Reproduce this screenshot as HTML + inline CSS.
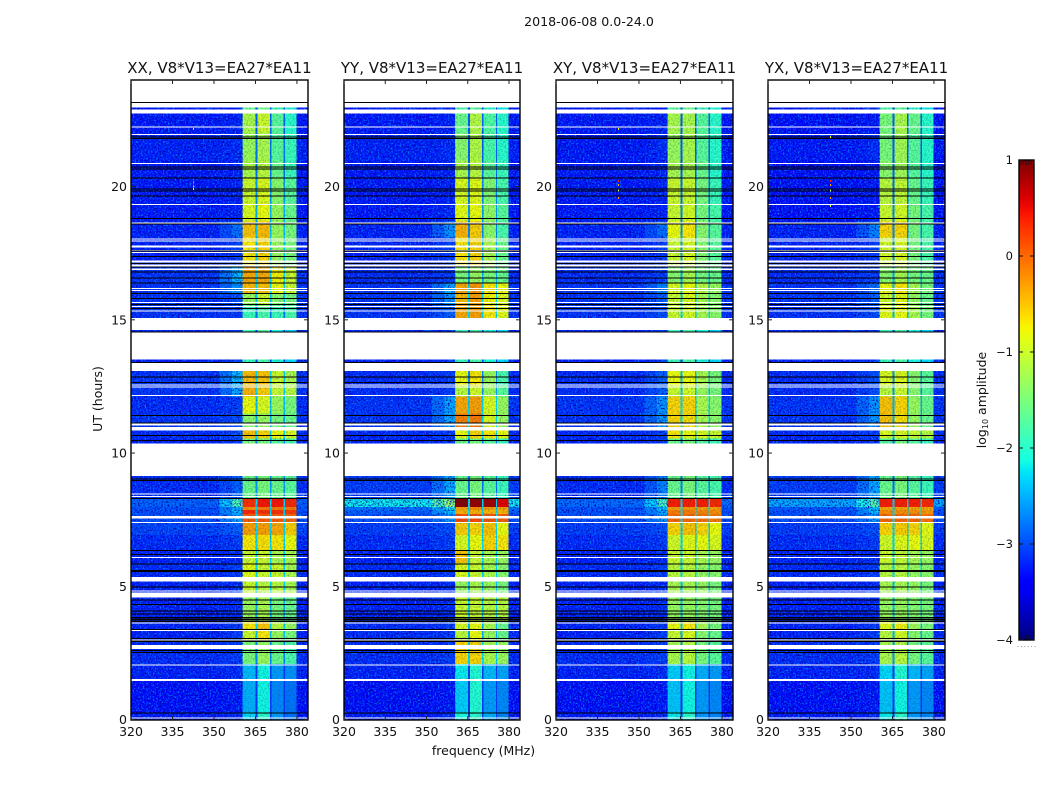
<!DOCTYPE html>
<html lang="en">
<head>
<meta charset="utf-8">
<title>2018-06-08 amplitude waterfall</title>
<style>
html,body{margin:0;padding:0;background:#fff;}
body{width:1050px;height:800px;overflow:hidden;}
svg{display:block;}
text{font-family:"DejaVu Sans","Liberation Sans",sans-serif;fill:#111;}
</style>
</head>
<body>
<svg id="figure" xmlns="http://www.w3.org/2000/svg" width="1050" height="800" viewBox="0 0 1050 800">
  <defs>
    <filter id="speckle" x="0" y="0" width="100%" height="100%" color-interpolation-filters="sRGB">
      <feTurbulence type="fractalNoise" baseFrequency="0.6" numOctaves="2" seed="4" result="n"/>
      <feColorMatrix in="n" type="matrix" values="0 0 0 0 0  0 0 0 0 0.5  0 0 0 0 1  3.5 0 0 0 -1.75" result="light"/>
      <feColorMatrix in="n" type="matrix" values="0 0 0 0 0  0 0 0 0 0  0 0 0 0 0.6  0 3.5 0 0 -1.7" result="dark"/>
      <feMerge><feMergeNode in="dark"/><feMergeNode in="light"/></feMerge>
    </filter>
    <filter id="speckle-soft" x="0" y="0" width="100%" height="100%" color-interpolation-filters="sRGB">
      <feTurbulence type="fractalNoise" baseFrequency="0.6" numOctaves="2" seed="9"/>
      <feColorMatrix type="matrix" values="0 0 0 0 0  0 0 0 0 0.2  0 0 0 0 0.3  0.9 0 0 0 -0.38"/>
    </filter>
    <linearGradient id="jet-gradient" x1="0" y1="1" x2="0" y2="0"></linearGradient>
  </defs>
  <text x="589" y="26" font-size="12.6" text-anchor="middle">2018-06-08 0.0-24.0</text>
  <text x="0" y="0" font-size="12.5" text-anchor="middle" transform="translate(102,399) rotate(-90)">UT (hours)</text>
  <text x="483.5" y="755" font-size="12.5" text-anchor="middle">frequency (MHz)</text>
  <text x="0" y="0" font-size="12.5" text-anchor="middle" transform="translate(986,400) rotate(-90)">log<tspan font-size="8" dy="2">10</tspan><tspan dy="-2"> amplitude</tspan></text>
  <g id="panels"></g>
  <g id="colorbar"></g>
</svg>
<script>
// ---- shared axes data ----
const panelTitles = ['XX, V8*V13=EA27*EA11','YY, V8*V13=EA27*EA11','XY, V8*V13=EA27*EA11','YX, V8*V13=EA27*EA11'];
const freqTicks = [320,335,350,365,380];
const utTicks = [0,5,10,15,20];
const colorbarTicks = [1,0,-1,-2,-3,-4];
const colorbarLabels = ['1','0','\u22121','\u22122','\u22123','\u22124'];

// Frequency columns (MHz) and which row value each column reads:
// 0 background, 1 shoulder, 2-5 bands, 6 gap between bands
const freqEdges = [320,352,356.5,360.4,365.1,365.8,370.2,370.8,375.2,375.7,379.9,384];
const freqColumnKind = [0,1,1,2,6,3,6,4,6,5,0];

// Time rows (hours, top to bottom)
const utEdges = [22.97,22.74,21.99,20.98,20.30,19.37,18.69,18.09,17.00,16.37,15.99,15.54,15.05,13.07,12.51,12.13,11.49,10.97,10.55,9.13,8.31,7.97,7.86,7.71,7.37,6.92,6.36,5.87,5.34,4.59,3.66,3.36,2.98,2.08,1.44,0.28,0];

// log10 amplitude per row: background, shoulder, band1..band4
const valuesXX = [
[-3.3,-3.3,-1.6,-1.6,-1.9,-2.1],[-3.3,-3.25,-1.2,-1.0,-1.7,-2.0],[-3.25,-3.2,-1.3,-1.2,-1.7,-1.9],[-3.3,-3.25,-1.2,-1.1,-1.6,-1.9],
[-3.3,-3.25,-1.0,-0.9,-1.4,-1.7],[-3.3,-3.25,-0.9,-0.8,-1.3,-1.6],[-3.25,-2.8,-0.5,-0.45,-1.3,-1.5],[-3.25,-3.1,-0.7,-0.6,-1.3,-1.5],
[-3.15,-2.4,-0.35,-0.35,-0.75,-1.0],[-3.15,-2.6,-0.45,-0.5,-0.8,-1.0],[-3.15,-3.0,-1.3,-1.0,-1.4,-1.5],[-3.15,-3.1,-1.9,-1.8,-1.9,-1.8],
[-3.25,-3.1,-1.9,-1.8,-2.1,-2.3],[-3.15,-2.4,-0.45,-0.5,-1.0,-1.2],[-3.15,-2.5,-0.4,-0.55,-1.0,-1.1],[-3.2,-3.1,-0.8,-0.9,-1.3,-1.5],
[-3.15,-3.0,-1.4,-1.3,-1.5,-1.6],[-3.2,-3.0,-0.5,-0.6,-0.8,-0.9],[-3.25,-3.1,-1.5,-1.5,-1.7,-1.8],[-3.2,-2.9,-1.6,-1.5,-1.6,-1.7],
[-2.9,-1.8,0.3,0.45,0.45,0.35],[-3.0,-2.5,-0.2,-0.1,-0.1,-0.1],[-3.0,-2.4,0.35,0.3,0.3,0.25],[-3.0,-2.5,0.05,0.05,0.05,0],
[-3.05,-2.9,-0.3,-0.3,-0.35,-0.55],[-3.2,-3.1,-0.7,-0.65,-0.7,-0.8],[-3.25,-3.2,-1.0,-1.0,-1.2,-1.2],[-3.2,-3.1,-0.85,-1.0,-1.0,-1.2],
[-3.25,-3.2,-1.0,-1.1,-1.1,-1.2],[-3.25,-3.2,-1.3,-1.2,-1.5,-1.6],[-3.25,-3.1,-0.7,-0.5,-1.1,-1.3],[-3.25,-3.1,-1.0,-0.7,-1.3,-1.5],
[-3.2,-3.1,-1.5,-1.3,-1.6,-1.8],[-3.25,-3.2,-2.45,-2.15,-2.6,-2.65],[-3.35,-3.3,-2.5,-2.15,-2.7,-2.8],[-3.3,-3.2,-2.3,-2.0,-2.6,-2.8]];
const valuesYY = [
[-3.3,-3.3,-1.8,-1.7,-2.0,-2.2],[-3.3,-3.25,-1.6,-1.15,-1.75,-2.0],[-3.25,-3.2,-1.4,-1.15,-1.8,-2.0],[-3.3,-3.25,-1.2,-1.1,-1.7,-1.9],
[-3.3,-3.25,-0.9,-0.85,-1.45,-1.8],[-3.3,-3.2,-0.85,-0.8,-1.35,-1.7],[-3.25,-2.6,-0.4,-0.55,-1.4,-1.8],[-3.25,-3.1,-0.7,-0.6,-1.2,-1.6],
[-3.2,-3.1,-1.5,-1.3,-1.5,-1.6],[-3.15,-2.5,-0.35,-0.25,-0.7,-0.8],[-3.15,-2.6,-0.45,-0.3,-0.75,-0.9],[-3.15,-2.9,-0.35,-0.3,-0.7,-0.85],
[-3.25,-3.1,-1.9,-1.8,-2.1,-2.3],[-3.2,-3.1,-0.8,-0.7,-1.3,-1.8],[-3.2,-3.1,-1.1,-0.95,-1.3,-1.7],[-3.15,-2.5,-0.35,-0.3,-0.9,-1.3],
[-3.15,-2.5,-0.15,-0.1,-0.9,-1.3],[-3.2,-3.1,-0.8,-0.6,-0.7,-0.8],[-3.25,-3.1,-1.6,-1.5,-1.7,-1.9],[-3.1,-2.5,-1.6,-1.5,-1.7,-1.9],
[-2.15,-1.3,0.95,0.9,0.85,0.55],[-2.8,-2.1,-0.3,-0.2,-0.3,-0.3],[-2.9,-2.4,-0.4,-0.4,-0.4,-0.4],[-3.0,-2.6,0.15,0.15,0.1,0.05],
[-3.1,-3.0,-0.55,-0.6,-0.5,-0.8],[-3.2,-3.1,-0.9,-0.8,-0.6,-0.7],[-3.25,-3.2,-0.5,-1.0,-1.2,-1.3],[-3.2,-3.1,-0.9,-1.0,-1.2,-1.4],
[-3.25,-3.2,-1.3,-1.2,-1.3,-1.5],[-3.25,-3.2,-1.0,-1.0,-1.1,-1.1],[-3.2,-3.1,-0.9,-0.8,-1.2,-1.6],[-3.2,-3.1,-1.1,-0.8,-1.3,-1.6],
[-3.2,-3.1,-0.6,-0.6,-1.2,-1.3],[-3.25,-3.2,-2.2,-2.05,-2.45,-2.55],[-3.35,-3.3,-2.35,-2.05,-2.6,-2.7],[-3.3,-3.2,-2.1,-2.0,-2.5,-2.7]];
const valuesXY = [
[-3.3,-3.3,-1.7,-1.6,-1.9,-2.1],[-3.3,-3.25,-1.2,-1.2,-1.7,-2.0],[-3.3,-3.2,-1.3,-1.2,-1.7,-2.0],[-3.3,-3.25,-1.2,-1.2,-1.6,-2.0],
[-3.3,-3.25,-1.0,-1.0,-1.5,-1.9],[-3.3,-3.25,-1.0,-0.95,-1.5,-1.8],[-3.25,-2.8,-0.8,-0.7,-1.4,-1.7],[-3.25,-3.1,-1.0,-0.9,-1.4,-1.7],
[-3.2,-3.1,-1.4,-1.2,-1.5,-1.6],[-3.15,-2.7,-0.9,-0.8,-1.1,-1.3],[-3.15,-2.9,-1.0,-0.9,-1.2,-1.4],[-3.15,-3.0,-1.0,-0.95,-1.2,-1.4],
[-3.25,-3.1,-1.9,-1.8,-2.1,-2.3],[-3.2,-2.9,-0.8,-0.8,-1.2,-1.5],[-3.2,-2.9,-1.0,-0.95,-1.3,-1.5],[-3.15,-2.6,-0.6,-0.6,-1.2,-1.4],
[-3.15,-2.6,-0.6,-0.65,-1.2,-1.4],[-3.2,-3.1,-0.7,-0.8,-0.9,-1.0],[-3.25,-3.1,-1.6,-1.5,-1.7,-1.9],[-3.2,-2.7,-1.6,-1.5,-1.7,-1.8],
[-2.85,-1.8,0.4,0.4,0.4,0.35],[-3.0,-2.4,-0.3,-0.25,-0.3,-0.3],[-3.0,-2.5,-0.1,-0.1,-0.15,-0.2],[-3.0,-2.6,0.0,0.0,-0.05,-0.1],
[-3.1,-3.0,-0.6,-0.5,-0.6,-0.8],[-3.2,-3.1,-0.95,-0.85,-0.8,-0.9],[-3.25,-3.2,-1.0,-1.0,-1.2,-1.3],[-3.2,-3.1,-1.1,-1.1,-1.3,-1.4],
[-3.25,-3.2,-1.2,-1.2,-1.3,-1.5],[-3.25,-3.2,-1.3,-1.3,-1.4,-1.5],[-3.25,-3.1,-0.8,-0.7,-1.2,-1.5],[-3.25,-3.1,-1.0,-0.9,-1.4,-1.6],
[-3.2,-3.1,-1.2,-1.1,-1.5,-1.7],[-3.25,-3.2,-2.35,-2.15,-2.5,-2.6],[-3.35,-3.3,-2.4,-2.15,-2.6,-2.7],[-3.3,-3.2,-2.2,-2.0,-2.6,-2.7]];
const valuesYX = [
[-3.3,-3.3,-1.8,-1.7,-2.0,-2.2],[-3.35,-3.3,-1.5,-1.2,-1.6,-2.0],[-3.3,-3.2,-1.5,-1.25,-1.7,-2.0],[-3.35,-3.3,-1.4,-1.25,-1.7,-2.0],
[-3.35,-3.3,-1.1,-1.05,-1.6,-1.9],[-3.35,-3.3,-1.0,-0.95,-1.5,-1.8],[-3.25,-2.7,-0.6,-0.6,-1.5,-1.8],[-3.25,-3.1,-0.95,-0.9,-1.5,-1.8],
[-3.2,-3.1,-1.4,-1.2,-1.5,-1.6],[-3.15,-2.8,-0.8,-0.7,-1.2,-1.5],[-3.15,-2.9,-0.95,-0.85,-1.3,-1.6],[-3.15,-3.0,-0.85,-0.8,-1.2,-1.5],
[-3.25,-3.1,-1.9,-1.8,-2.1,-2.3],[-3.2,-3.0,-0.9,-0.9,-1.4,-1.7],[-3.2,-3.0,-1.1,-1.0,-1.4,-1.7],[-3.15,-2.6,-0.5,-0.6,-1.3,-1.6],
[-3.15,-2.6,-0.5,-0.65,-1.3,-1.6],[-3.2,-3.1,-0.9,-0.9,-1.0,-1.1],[-3.25,-3.1,-1.7,-1.5,-1.7,-1.9],[-3.1,-2.5,-1.6,-1.5,-1.7,-1.9],
[-2.5,-1.7,0.4,0.4,0.4,0.35],[-2.95,-2.3,-0.35,-0.3,-0.35,-0.35],[-3.0,-2.4,-0.2,-0.2,-0.2,-0.25],[-3.0,-2.6,0.0,0.0,0.0,-0.05],
[-3.1,-3.0,-0.6,-0.55,-0.6,-0.85],[-3.2,-3.1,-0.95,-0.85,-0.8,-0.9],[-3.25,-3.2,-1.0,-1.05,-1.2,-1.3],[-3.2,-3.1,-1.1,-1.1,-1.3,-1.4],
[-3.25,-3.2,-1.2,-1.2,-1.3,-1.5],[-3.25,-3.2,-1.3,-1.3,-1.4,-1.5],[-3.25,-3.1,-0.85,-0.75,-1.25,-1.5],[-3.25,-3.1,-1.1,-0.95,-1.4,-1.6],
[-3.2,-3.1,-1.2,-1.1,-1.5,-1.7],[-3.25,-3.2,-2.3,-2.05,-2.45,-2.55],[-3.35,-3.3,-2.4,-2.15,-2.6,-2.7],[-3.3,-3.2,-2.2,-2.0,-2.6,-2.7]];
const panelValues = [valuesXX, valuesYY, valuesXY, valuesYX];

// Flagged (blank) time spans: [top hour, bottom hour]
const blankSpans = [[24,23.19],[23.15,22.97],[22.89,22.74],[17.79,17.72],[17.23,17.16],[17.08,17.01],[16.93,16.87],[15.07,14.61],[14.57,13.52],[13.42,13.07],[11.12,11.03],[10.97,10.85],[10.36,9.13],[7.63,7.55],[5.34,5.17],[4.77,4.58],[2.79,2.64],[1.52,1.44]];
// Thin blank rows (hour of each single-pixel row)
const blankRows = [22.25,21.98,20.89,19.35,18.65,18.05,17.98,17.62,17.55,16.20,16.12,15.67,15.52,15.35,12.57,12.50,12.17,8.49,8.38,7.41,6.10,4.84,3.64,3.36,3.01,2.07,0.08];
// Zero-amplitude rows, rendered black
const blackRows = [23.17,21.88,21.82,20.75,20.68,20.34,19.92,19.85,19.66,18.83,18.62,17.60,17.39,17.13,17.00,16.82,16.59,16.40,16.01,15.82,15.60,15.45,14.57,13.42,12.88,12.67,11.43,11.14,10.68,10.49,9.05,8.98,8.32,6.37,6.21,5.86,5.61,5.58,5.00,4.51,4.34,4.10,3.97,3.84,3.80,3.76,3.69,3.39,3.06,2.96,2.94,2.61,2.53,0.27];
// Isolated bright pixels: [panel, MHz, hour, log10 amplitude]
const spikes = [[0,342.4,20.3,0.3],[0,342.4,20.2,-0.2],[0,342.4,20.05,-0.6],[0,342.4,19.95,-0.9],[0,342.4,22.2,-1.0],
[2,342.4,20.25,0.3],[2,342.4,20.1,-0.3],[2,342.4,19.9,-1.0],[2,342.4,19.6,-0.3],[2,342.4,22.2,-0.8],
[3,342.4,20.25,0.3],[3,342.4,20.1,-0.3],[3,342.4,19.9,-1.0],[3,342.4,19.6,-0.3],[3,342.4,19.3,-1.0],[3,342.4,21.9,-0.8]];

// Gaps between the four bands sit below the dimmest band, within these limits
const gapDrop = 0.9;
const gapFloor = -3.1;
const gapCeiling = -2.3;

// ---- layout ----
const panelLeft = [131,344,556,768];
const panelRight = [308,520,733,945];
const plotTop = 80, plotBottom = 720;
const NS = 'http://www.w3.org/2000/svg';

function xScale(panel, mhz){ return panelLeft[panel] + (mhz-320)/64*(panelRight[panel]-panelLeft[panel]); }
function yScale(ut){ return plotBottom - 0.5 - ut/24*(plotBottom-0.5-plotTop); }

function seg(arr, x){
  for(let i=0;i<arr.length-1;i++){ if(x<=arr[i+1][0]){ const a=arr[i],b=arr[i+1]; return a[1]+(b[1]-a[1])*(x-a[0])/(b[0]-a[0]); } }
  return arr[arr.length-1][1];
}
const jetR=[[0,0],[.35,0],[.66,1],[.89,1],[1,.5]];
const jetG=[[0,0],[.125,0],[.375,1],[.64,1],[.91,0],[1,0]];
const jetB=[[0,.5],[.11,1],[.34,1],[.65,0],[1,0]];
function jet(v){
  const t=Math.max(0,Math.min(1,(v+4)/5));
  return 'rgb('+Math.round(255*seg(jetR,t))+','+Math.round(255*seg(jetG,t))+','+Math.round(255*seg(jetB,t))+')';
}
function mk(tag, attrs, parent){
  const el=document.createElementNS(NS,tag);
  for(const k in attrs){ el.setAttribute(k,attrs[k]); }
  parent.appendChild(el);
  return el;
}

const panelsRoot=document.getElementById('panels');
panelTitles.forEach(function(title,p){
  const g=mk('g',{},panelsRoot);
  
  

  const clipId='clip'+p;
  const clip=mk('clipPath',{id:clipId},g);
  mk('rect',{x:panelLeft[p],y:plotTop,width:panelRight[p]-panelLeft[p],height:plotBottom-plotTop},clip);

  const bgRect=mk('rect',{x:panelLeft[p],y:plotTop,width:panelRight[p]-panelLeft[p],height:plotBottom-plotTop,fill:'#fff'},g);
  
  

  const heat=mk('g',{'clip-path':'url(#'+clipId+')','shape-rendering':'crispEdges'},g);
  
  

  const rows=panelValues[p];
  rows.forEach(function(row,r){
    const y0=yScale(utEdges[r]), y1=yScale(utEdges[r+1]);
    const bands=row.slice(2);
    const gapV=Math.max(gapFloor,Math.min(gapCeiling,Math.min.apply(null,bands)-gapDrop));
    freqColumnKind.forEach(function(kind,c){
      const x0=xScale(p,freqEdges[c]), x1=xScale(p,freqEdges[c+1]);
      let v;
      if(kind===6){ v=gapV; }
      else if(kind===1 && c===1){ v=(row[0]+row[1])/2; }
      else { v=row[kind]; }
      const cell=mk('rect',{x:x0.toFixed(2),y:y0.toFixed(2),width:(x1-x0+0.4).toFixed(2),height:(y1-y0+0.4).toFixed(2),fill:jet(v)},heat);
      
      
    });
  });

  const top=yScale(utEdges[0]);
  const noiseLeft=mk('rect',{x:panelLeft[p],y:top,width:xScale(p,360.4)-panelLeft[p],height:plotBottom-top,filter:'url(#speckle)'},heat);
  
  
  const noiseRight=mk('rect',{x:xScale(p,379.9),y:top,width:panelRight[p]-xScale(p,379.9),height:plotBottom-top,filter:'url(#speckle)'},heat);
  
  
  const noiseBand=mk('rect',{x:xScale(p,360.4),y:top,width:xScale(p,379.9)-xScale(p,360.4),height:plotBottom-top,filter:'url(#speckle-soft)'},heat);
  
  

  blankSpans.forEach(function(s){
    const b=mk('rect',{x:panelLeft[p],y:yScale(s[0]).toFixed(2),width:panelRight[p]-panelLeft[p],height:(yScale(s[1])-yScale(s[0])).toFixed(2),fill:'#fff'},heat);
    
    
  });
  blankRows.forEach(function(u){
    const b=mk('rect',{x:panelLeft[p],y:yScale(u).toFixed(2),width:panelRight[p]-panelLeft[p],height:1,fill:'#fff'},heat);
    
    
  });
  blackRows.forEach(function(u){
    const b=mk('rect',{x:panelLeft[p],y:yScale(u).toFixed(2),width:panelRight[p]-panelLeft[p],height:1,fill:'#000'},heat);
    
    
  });
  spikes.filter(function(s){return s[0]===p;}).forEach(function(s){
    const d=mk('rect',{x:xScale(p,s[1]).toFixed(2),y:yScale(s[2]).toFixed(2),width:1,height:2,fill:jet(s[3])},heat);
    
    
  });

  const frame=mk('rect',{x:panelLeft[p],y:plotTop,width:panelRight[p]-panelLeft[p],height:plotBottom-plotTop,fill:'none',stroke:'#000','stroke-width':1.4},g);
  
  

  const t=mk('text',{x:(panelLeft[p]+panelRight[p])/2,y:73,'font-size':15,'text-anchor':'middle'},g);
  
  
  t.textContent=title;

  freqTicks.forEach(function(f){
    const x=xScale(p,f);
    const a=mk('line',{x1:x,x2:x,y1:plotBottom,y2:plotBottom-4,stroke:'#222','stroke-width':1},g);
    
    
    const b=mk('line',{x1:x,x2:x,y1:plotTop,y2:plotTop+4,stroke:'#222','stroke-width':1},g);
    
    
    const l=mk('text',{x:x,y:736,'font-size':12.5,'text-anchor':'middle'},g);
    
    
    l.textContent=String(f);
  });
  utTicks.forEach(function(u){
    const y=yScale(u);
    const a=mk('line',{x1:panelLeft[p],x2:panelLeft[p]+4,y1:y,y2:y,stroke:'#222','stroke-width':1},g);
    
    
    const b=mk('line',{x1:panelRight[p],x2:panelRight[p]-4,y1:y,y2:y,stroke:'#222','stroke-width':1},g);
    
    
    const l=mk('text',{x:panelLeft[p]-4,y:y+4.5,'font-size':12.5,'text-anchor':'end'},g);
    
    
    l.textContent=String(u);
  });
});

// ---- colorbar ----
const cbLeft=1019, cbRight=1034, cbTop=160, cbBottom=640;
function cbY(v){ return cbBottom-(v+4)/5*(cbBottom-cbTop); }
const grad=document.getElementById('jet-gradient');
for(let i=0;i<=40;i++){
  const v=-4+5*i/40;
  mk('stop',{offset:(i/40*100)+'%','stop-color':jet(v)},grad);
}
const cb=document.getElementById('colorbar');
const cbBar=mk('rect',{x:cbLeft,y:cbTop,width:cbRight-cbLeft,height:cbBottom-cbTop,fill:'url(#jet-gradient)',stroke:'#000','stroke-width':1.4},cb);


colorbarTicks.forEach(function(v,i){
  const y=cbY(v);
  const a=mk('line',{x1:cbLeft,x2:cbLeft+4,y1:y,y2:y,stroke:'#111','stroke-width':1},cb);
  
  
  const b=mk('line',{x1:cbRight,x2:cbRight-4,y1:y,y2:y,stroke:'#111','stroke-width':1},cb);
  
  
  const l=mk('text',{x:cbLeft-6,y:y+4,'font-size':11.5,'text-anchor':'end'},cb);
  
  
  l.textContent=colorbarLabels[i];
});
for(let i=0;i<6;i++){
  const x=cbLeft+2+i*2.6;
  const top=mk('line',{x1:x,x2:x,y1:cbTop,y2:cbTop+5,stroke:'#111','stroke-width':0.8},cb);
  
  
  const bot=mk('line',{x1:x,x2:x,y1:cbBottom,y2:cbBottom-5,stroke:'#111','stroke-width':0.8},cb);
  
  
  const dot=mk('rect',{x:cbLeft-1.5+i*3.4,y:646,width:1,height:1,fill:'#999'},cb);
  
  
}
</script>
</body>
</html>
